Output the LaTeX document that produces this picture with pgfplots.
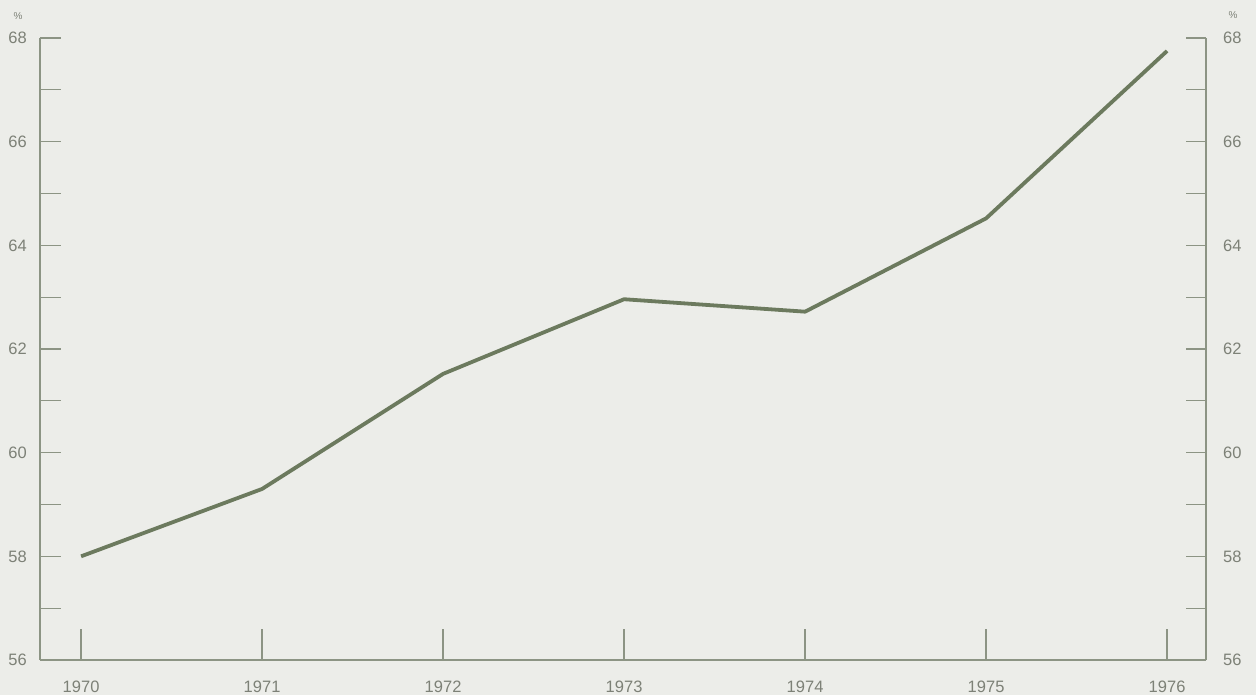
\documentclass[border=0pt]{standalone}
\usepackage{pgfplots}
\pgfplotsset{compat=1.18}
\usepackage{fontspec}
\setmainfont{Liberation Sans}
\definecolor{bg}{RGB}{236,237,233}
\definecolor{axc}{RGB}{140,148,132}
\definecolor{txc}{RGB}{125,129,119}
\definecolor{linec}{RGB}{108,122,94}
\begin{document}
\fontsize{16.5}{19}\selectfont
\begin{tikzpicture}
\fill[bg] (-40pt,-35pt) rectangle (1216pt,660pt);
\path[use as bounding box] (-40pt,-35pt) rectangle (1216pt,660pt);
\pgfplotsset{
  base/.style={
    scale only axis, width=1166pt, height=622pt,
    xmin=1969.773, xmax=1976.215, ymin=56, ymax=68,
    at={(0pt,0pt)}, anchor=south west,
    axis line style={axc, line width=1.5pt, -},
    every outer x axis line/.append style={-},
    every outer y axis line/.append style={-},
    tick style={axc, line width=1.3pt},
    tick align=inside,
    ticklabel style={text=txc, font=\fontsize{16.5}{19}\selectfont},
    /pgf/number format/assume math mode=true,
    /pgf/number format/1000 sep={},
    clip=false,
  }
}
\begin{axis}[base,
  axis x line*=bottom, axis y line=none,
  xtick={1970,1971,1972,1973,1974,1975,1976},
  major tick length=31pt,
  xticklabel style={inner sep=0pt, anchor=north, yshift=-21pt},
  ytick=\empty]
\addplot[linec, line width=3.8pt, line join=round] coordinates {
(1970,58.0) (1971,59.3) (1972,61.52) (1973,62.96) (1974,62.72) (1975,64.52) (1976,67.75)};
\end{axis}
\begin{axis}[base,
  axis y line*=left, axis x line=none, xtick=\empty,
  ytick={56,58,60,62,64,66,68}, minor ytick={57,59,61,63,65,67},
  major tick length=21pt, minor tick length=21pt,
  yticklabel style={inner sep=0pt, anchor=east, xshift=-13pt}]
\addplot[draw=none] coordinates {(1970,58)};
\end{axis}
\begin{axis}[base,
  axis y line*=right, axis x line=none, xtick=\empty,
  ytick={56,58,60,62,64,66,68}, minor ytick={57,59,61,63,65,67},
  major tick length=20pt, minor tick length=20pt,
  yticklabel style={inner sep=0pt, anchor=west, xshift=17pt}]
\addplot[draw=none] coordinates {(1970,58)};
\end{axis}
\node[text=txc, font=\fontsize{10}{11}\selectfont] at (-22pt,644pt) {\%};
\node[text=txc, font=\fontsize{10}{11}\selectfont] at (1193pt,645pt) {\%};
\end{tikzpicture}
\end{document}
